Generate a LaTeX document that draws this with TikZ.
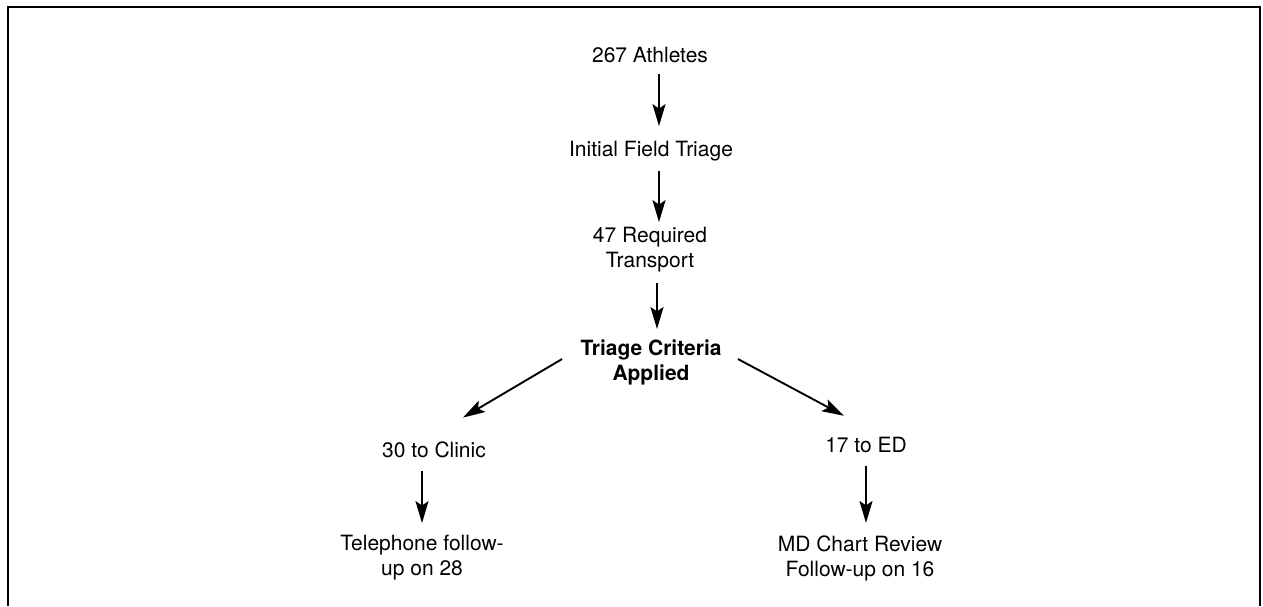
\documentclass[tikz,border=0pt]{standalone}
\usepackage{fontspec}
\setmainfont{TeX Gyre Heros}
\usetikzlibrary{arrows.meta}
\begin{document}
\begin{tikzpicture}[x=0.5pt,y=-0.5pt,
  lbl/.style={inner sep=0pt,align=center,font=\fontsize{10.5}{12.5}\selectfont},
  arr/.style={line width=0.95pt,-{Stealth[length=11pt,width=6.5pt,inset=2.2pt]},shorten <=5pt,shorten >=5pt},
  frame/.style={line width=1.2pt}]
\useasboundingbox (0,0) rectangle (1263,606);
\draw[frame] (8,606) -- (8,7) -- (1260,7) -- (1260,606);
\coordinate (cx) at (659,0);
\coordinate (cy) at (657,0);
\node[lbl] (athletes) at (650,55) {267 Athletes};
\node[lbl] (field) at (651,151.5) {Initial Field Triage};
\node[lbl] (transport) at (650,250) {47 Required\\Transport};
\node[lbl,font=\fontsize{10.5}{12.5}\selectfont\bfseries] (criteria) at (651,362) {Triage Criteria\\Applied};
\node[lbl] (clinic) at (434,450) {30 to Clinic};
\node[lbl] (ed) at (866,445) {17 to ED};
\node[lbl] (phone) at (422,558) {Telephone follow-\\up on 28};
\node[lbl] (chart) at (860,558) {MD Chart Review\\Follow-up on 16};
\draw[arr,shorten <=5.5pt,shorten >=7.5pt] (athletes.south -| cx) -- (field.north -| cx);
\draw[arr,shorten <=4.5pt,shorten >=2.5pt] (field.south -| cx) -- (transport.north -| cx);
\draw[arr,shorten <=5pt,shorten >=5pt] (transport.south -| cy) -- (criteria.north -| cy);
\draw[arr,shorten <=0pt,shorten >=0pt] ([shift={(-9pt,1.5pt)}]criteria.west) -- ([shift={(14.5pt,12pt)}]clinic.north);
\draw[arr,shorten <=0pt,shorten >=0pt] ([shift={(8pt,1.5pt)}]criteria.east) -- ([shift={(-11pt,10.5pt)}]ed.north);
\draw[arr,shorten <=6.5pt,shorten >=6pt] (clinic.south -| phone.north) -- (phone.north);
\draw[arr,shorten <=6.5pt,shorten >=6pt] (ed.south) -- (ed.south |- chart.north);
\end{tikzpicture}
\end{document}
